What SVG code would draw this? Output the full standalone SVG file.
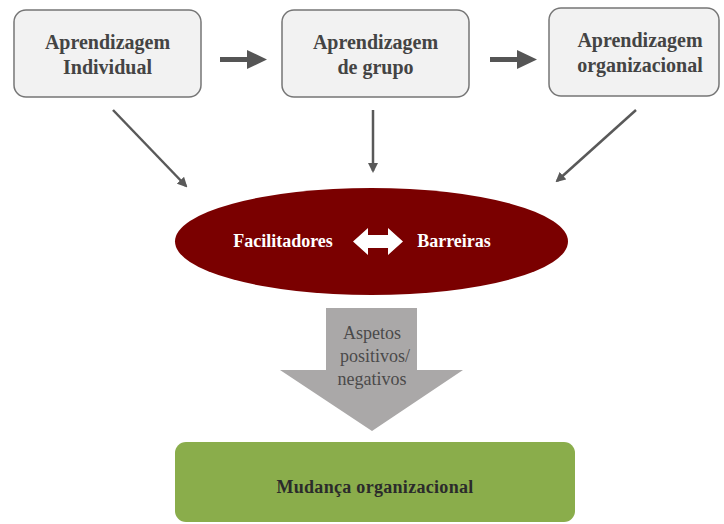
<svg xmlns="http://www.w3.org/2000/svg" width="724" height="524" viewBox="0 0 724 524">
  <style>
    .box { fill: #f2f2f2; stroke: #767676; stroke-width: 1.5; }
    .boxtxt { font-family: "Liberation Serif", "Times New Roman", serif; font-weight: bold; font-size: 20px; fill: #444444; text-anchor: middle; }
    .thin { stroke: #595959; stroke-width: 2.5; fill: none; }
    .white { font-family: "Liberation Serif", "Times New Roman", serif; font-weight: bold; font-size: 18px; fill: #ffffff; text-anchor: middle; }
    .gray { font-family: "Liberation Serif", "Times New Roman", serif; font-size: 18px; fill: #4a4a4a; text-anchor: middle; }
    .dark { font-family: "Liberation Serif", "Times New Roman", serif; font-weight: bold; font-size: 18px; fill: #2b2b2b; text-anchor: middle; letter-spacing: 0.3px; }
  </style>
  <defs>
    <marker id="head" viewBox="0 0 10 10" refX="8" refY="5" markerWidth="4" markerHeight="4" orient="auto" markerUnits="strokeWidth">
      <path d="M0,0 L10,5 L0,10 z" fill="#595959"/>
    </marker>
  </defs>
  <rect width="724" height="524" fill="#ffffff"/>

  <g id="individual">
    <rect class="box" x="14" y="10" width="187" height="87" rx="12"/>
    <text class="boxtxt" x="107.5" y="49">Aprendizagem</text>
    <text class="boxtxt" x="107.5" y="74">Individual</text>
  </g>
  <g id="grupo">
    <rect class="box" x="282" y="10" width="187" height="87" rx="12"/>
    <text class="boxtxt" x="375.5" y="49">Aprendizagem</text>
    <text class="boxtxt" x="375.5" y="74">de grupo</text>
  </g>
  <g id="organizacional">
    <rect class="box" x="549" y="8" width="170" height="88" rx="12"/>
    <text class="boxtxt" x="640" y="47">Aprendizagem</text>
    <text class="boxtxt" x="640" y="72">organizacional</text>
  </g>

  <g id="facilitadores-barreiras">
    <ellipse cx="371.5" cy="241.5" rx="196.5" ry="53.5" fill="#7a0000"/>
    <text class="white" x="283" y="247">Facilitadores</text>
    <text class="white" x="454" y="247">Barreiras</text>
    <path d="M353,241.5 L368,228 L368,235 L388,235 L388,228 L403,241.5 L388,255 L388,248 L368,248 L368,255 z" fill="#ffffff"/>
  </g>

  <g id="aspetos">
    <path d="M326,308 L417,308 L417,370 L463,370 L372,431 L280,370 L326,370 z" fill="#aaa8a8"/>
    <text class="gray" x="372" y="339">Aspetos</text>
    <text class="gray" x="375" y="362">positivos/</text>
    <text class="gray" x="372" y="385">negativos</text>
  </g>

  <g id="mudanca">
    <rect x="175" y="442" width="400" height="80" rx="11" fill="#8aad4b"/>
    <text class="dark" x="375" y="493">Mudança organizacional</text>
  </g>

  <g id="connectors">
    <path d="M220,57 L247,57 L247,50 L267,59.5 L247,69 L247,62 L220,62 z" fill="#555555"/>
    <path d="M490,57 L517,57 L517,50 L537,59.5 L517,69 L517,62 L490,62 z" fill="#555555"/>
    <line class="thin" x1="113" y1="110" x2="186" y2="186" marker-end="url(#head)"/>
    <line class="thin" x1="373" y1="110" x2="373" y2="171" marker-end="url(#head)"/>
    <line class="thin" x1="636" y1="110" x2="557" y2="181" marker-end="url(#head)"/>
  </g>
</svg>
